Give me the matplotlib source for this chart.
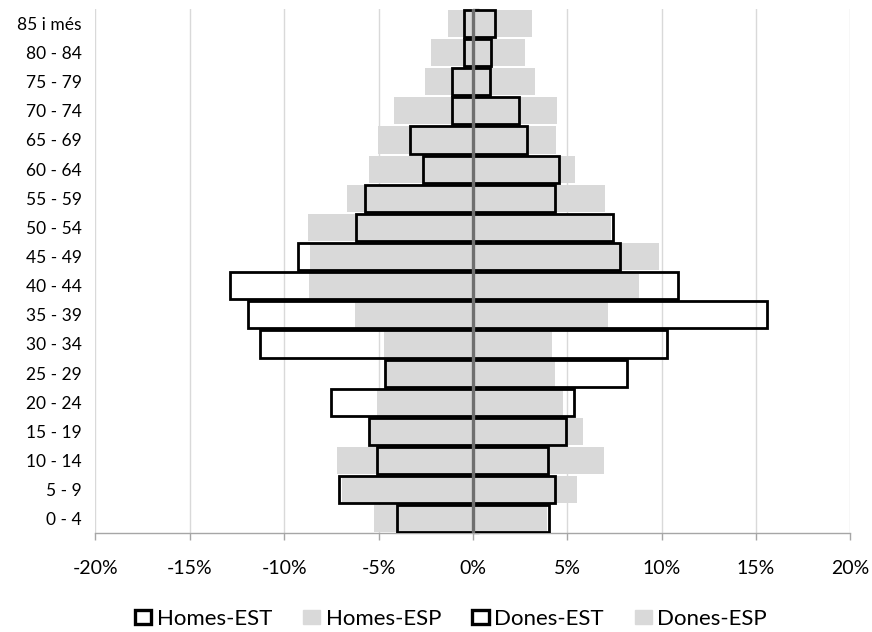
import matplotlib
matplotlib.use("Agg")
import matplotlib.pyplot as plt
from matplotlib.patches import Patch
from matplotlib.ticker import FuncFormatter

plt.rcParams['font.family'] = ['Lato', 'DejaVu Sans']

categories = ["0 - 4", "5 - 9", "10 - 14", "15 - 19", "20 - 24", "25 - 29", "30 - 34",
              "35 - 39", "40 - 44", "45 - 49", "50 - 54", "55 - 59", "60 - 64",
              "65 - 69", "70 - 74", "75 - 79", "80 - 84", "85 i més"]

homes_est = [-4.0, -7.09, -5.09, -5.53, -7.53, -4.65, -11.26, -11.92, -12.85, -9.27,
             -6.18, -5.74, -2.65, -3.34, -1.11, -1.11, -0.46, -0.46]
homes_esp = [-5.23, -6.94, -7.19, -5.44, -5.07, -4.6, -4.72, -6.27, -8.69, -8.64,
             -8.73, -6.68, -5.50, -5.03, -4.17, -2.54, -2.24, -1.32]
dones_est = [4.04, 4.38, 3.99, 4.94, 5.35, 8.18, 10.28, 15.61, 10.86, 7.81,
             7.42, 4.36, 4.57, 2.86, 2.47, 0.93, 0.97, 1.16]
dones_esp = [3.95, 5.53, 6.94, 5.86, 4.77, 4.36, 4.2, 7.15, 8.78, 9.86,
             7.3, 7.01, 5.42, 4.41, 4.47, 3.27, 2.77, 3.13]

xticks = [-20, -15, -10, -5, 0, 5, 10, 15, 20]

gray = '#d9d9d9'
fig = plt.figure(figsize=(8.72, 6.32), dpi=100)
ax = fig.add_axes([0.1095, 0.156, 0.8655, 0.830])

y = list(range(len(categories)))
h = 0.93
ax.barh(y, homes_esp, height=h, color=gray, zorder=2)
ax.barh(y, dones_esp, height=h, color=gray, zorder=2)
ax.barh(y, homes_est, height=h, facecolor='none', edgecolor='black', linewidth=2, zorder=3)
ax.barh(y, dones_est, height=h, facecolor='none', edgecolor='black', linewidth=2, zorder=3)

ax.axvline(0, color='#6f6f6f', linewidth=2.4, zorder=4)

ax.set_xlim(-20, 20)
ax.set_ylim(-0.5, len(categories) - 0.5)
ax.set_xticks(xticks)
ax.xaxis.set_major_formatter(FuncFormatter(lambda v, p: f"{v:.0f}%"))
ax.set_yticks(y)
ax.set_yticklabels(categories)
ax.tick_params(axis='y', length=0, pad=10, labelsize=12.5)
ax.tick_params(axis='x', length=5, color='#a6a6a6', width=1, pad=14, labelsize=14)
ax.grid(axis='x', color='#d9d9d9', linewidth=1, zorder=0)
ax.set_axisbelow(True)
for s in ['top', 'right', 'left']:
    ax.spines[s].set_visible(False)
ax.spines['bottom'].set_color('#a6a6a6')
ax.spines['bottom'].set_linewidth(1)

# small ticks on the center axis at category boundaries
sec = ax.secondary_yaxis(0.5)
sec.set_yticks([i - 0.5 for i in range(len(categories) + 1)])
sec.set_yticklabels([])
sec.tick_params(length=4, color='#7f7f7f', width=1)
sec.spines['left'].set_visible(False)

handles = [Patch(facecolor='white', edgecolor='black', linewidth=2.4),
           Patch(facecolor=gray, edgecolor=gray),
           Patch(facecolor='white', edgecolor='black', linewidth=2.4),
           Patch(facecolor=gray, edgecolor=gray)]
labels = ["Homes-EST", "Homes-ESP", "Dones-EST", "Dones-ESP"]
fig.legend(handles, labels, loc='center', bbox_to_anchor=(0.517, 0.021), ncol=4,
           frameon=False, fontsize=16, handlelength=0.75, handleheight=0.6,
           handletextpad=0.25, columnspacing=1.4)

fig.savefig("out.png", dpi=100)
